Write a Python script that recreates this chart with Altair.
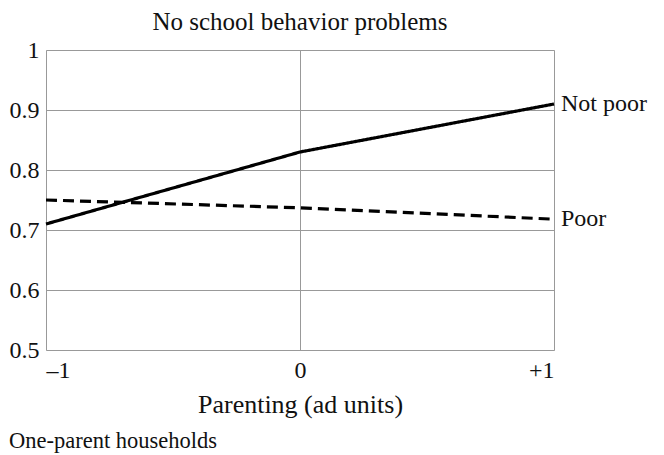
import altair as alt
import pandas as pd

# Data
parenting = [-1, 0, 1]
not_poor = [0.71, 0.83, 0.91]
poor = [0.75, 0.737, 0.718]
series_names = ["Not poor", "Poor"]
y_ticks = [0.5, 0.6, 0.7, 0.8, 0.9, 1.0]
x_ticks = [-1, 0, 1]
title_text = "No school behavior problems"
caption_text = "One-parent households"

rows = []
for x, v in zip(parenting, not_poor):
    rows.append({"x": x, "y": v, "group": "Not poor"})
for x, v in zip(parenting, poor):
    rows.append({"x": x, "y": v, "group": "Poor"})
df = pd.DataFrame(rows)
labels_df = pd.DataFrame({
    "x": [parenting[-1], parenting[-1]],
    "y": [not_poor[-1], poor[-1]],
    "group": series_names,
})

FONT = "Liberation Serif"
W, H = 508, 300

x_enc = alt.X(
    "x:Q",
    scale=alt.Scale(domain=[-1, 1], nice=False, zero=False),
    axis=alt.Axis(
        values=x_ticks,
        title="Parenting (ad units)",
        labelExpr="datum.value < 0 ? '\u20131' : (datum.value > 0 ? '+1' : '0')",
        grid=True,
        gridColor="#999999",
        gridWidth=1,
        ticks=False,
        domain=False,
        labelFont=FONT,
        labelFontSize=24,
        labelColor="#111",
        labelPadding=8,
        titleFont=FONT,
        titleFontSize=26,
        titleFontWeight="normal",
        titleColor="#111",
        titlePadding=9,
    ),
)
y_enc = alt.Y(
    "y:Q",
    scale=alt.Scale(domain=[0.5, 1.0], nice=False, zero=False),
    axis=alt.Axis(
        values=y_ticks,
        format=".1~f",
        title=None,
        grid=True,
        gridColor="#999999",
        gridWidth=1,
        ticks=False,
        domain=False,
        labelFont=FONT,
        labelFontSize=24,
        labelColor="#111",
        labelPadding=7,
    ),
)

lines = alt.Chart(df).mark_line(color="black", strokeWidth=3.2).encode(
    x=x_enc,
    y=y_enc,
    detail="group:N",
    strokeDash=alt.StrokeDash(
        "group:N",
        scale=alt.Scale(domain=series_names, range=[[1, 0], [11, 6]]),
        legend=None,
    ),
)

end_labels = alt.Chart(labels_df).mark_text(
    align="left", baseline="middle", dx=7, font=FONT, fontSize=24, color="#111"
).encode(x="x:Q", y="y:Q", text="group:N")

title_mark = alt.Chart(pd.DataFrame({"t": [title_text]})).mark_text(
    align="center", baseline="alphabetic", font=FONT, fontSize=25, color="#111"
).encode(x=alt.value(W / 2), y=alt.value(-20), text="t:N")

caption = alt.Chart(pd.DataFrame({"t": [caption_text]})).mark_text(
    align="left", baseline="alphabetic", font=FONT, fontSize=22.5, color="#111"
).encode(x=alt.value(-37), y=alt.value(398), text="t:N")

chart = alt.layer(lines, end_labels, title_mark, caption).properties(
    width=W,
    height=H,
    autosize=alt.AutoSizeParams(type="none"),
    padding={"left": 38, "top": 42, "right": 102, "bottom": 103},
).configure_view(stroke="#333", strokeWidth=2).configure(background="white")

chart.save("out.html", embed_options={"renderer": "svg", "actions": False})
